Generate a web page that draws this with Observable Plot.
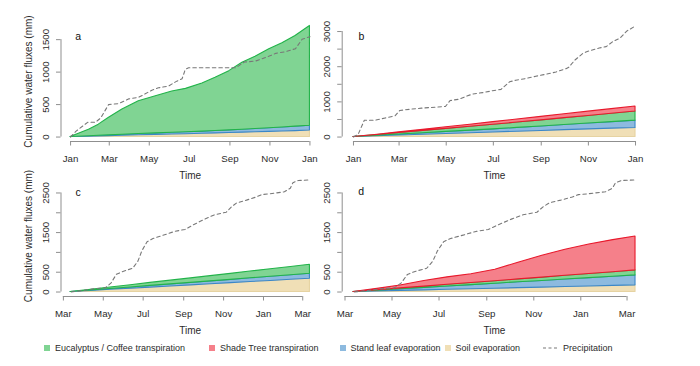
<!DOCTYPE html>
<html><head><meta charset="utf-8">
<script src="https://cdn.jsdelivr.net/npm/d3@7"></script>
<script src="https://cdn.jsdelivr.net/npm/@observablehq/plot@0.6"></script>
<style>
body{margin:0;background:#fff;}
#chart{position:relative;width:700px;height:366px;background:#fff;font-family:"Liberation Sans",Arial,sans-serif;overflow:hidden;}
.legend-item{position:absolute;top:341px;height:13px;display:flex;align-items:center;font-size:9px;color:#2b2b2b;white-space:nowrap;}
.sw{display:inline-block;width:6px;height:6px;margin-right:5px;}
</style></head><body><div id="chart"></div>
<script>
// ---------------- data ----------------
const SOIL = "Soil evaporation", LEAF = "Stand leaf evaporation",
      TRANSP = "Eucalyptus / Coffee transpiration", SHADE = "Shade Tree transpiration";

// Panel a
const datesA = ["2010-01-01","2010-01-29","2010-02-13","2010-02-28","2010-03-21","2010-04-15","2010-05-11","2010-06-05","2010-06-26","2010-07-21","2010-08-10","2010-08-31","2010-09-20","2010-10-10","2010-10-31","2010-11-20","2010-12-10","2011-01-01"];
const soilA   = [0,7,11,15,21,27,33,39,44,50,56,62,68,74,80,86,92,100];
const leafA   = [0,5,8,11,15,19,23,27,30,34,37,41,45,50,56,62,68,75];
const transpA = [0,101,172,268,387,506,573,635,668,741,819,912,1031,1113,1215,1295,1397,1536];
const precipDatesA = ["2010-01-01","2010-01-09","2010-01-27","2010-02-08","2010-02-16","2010-02-28","2010-03-15","2010-03-31","2010-04-15","2010-04-23","2010-05-05","2010-05-15","2010-05-30","2010-06-12","2010-06-20","2010-06-25","2010-06-30","2010-09-10","2010-09-23","2010-10-10","2010-10-31","2010-11-10","2010-11-25","2010-12-10","2010-12-20","2011-01-01"];
const precipA = [0,88,227,227,294,500,515,588,613,655,722,758,784,861,897,1041,1067,1067,1155,1170,1247,1289,1314,1361,1505,1546];

// Panel b
const datesB = ["2010-01-01","2010-02-01","2010-03-01","2010-04-01","2010-05-01","2010-06-01","2010-07-01","2010-08-01","2010-09-01","2010-10-01","2010-11-01","2010-12-01","2011-01-01"];
const soilB   = [0,22,44,65,87,109,131,152,174,196,218,239,258];
const leafB   = [0,14,29,44,59,73,88,108,126,146,166,186,209];
const coffeeB = [0,22,44,66,87,110,131,152,175,195,216,237,258];
const shadeB  = [0,8,18,30,45,60,75,88,100,112,122,132,145];
const precipDatesB = ["2010-01-01","2010-01-07","2010-01-15","2010-01-29","2010-02-11","2010-02-24","2010-03-02","2010-03-17","2010-03-30","2010-04-17","2010-04-30","2010-05-06","2010-05-17","2010-05-26","2010-06-04","2010-06-17","2010-06-30","2010-07-11","2010-07-22","2010-07-30","2010-08-12","2010-08-25","2010-09-07","2010-09-20","2010-10-03","2010-10-07","2010-10-14","2010-10-25","2010-11-03","2010-11-15","2010-11-24","2010-12-03","2010-12-12","2010-12-21","2011-01-01"];
const precipB = [0,75,477,477,542,607,757,794,822,850,869,1037,1075,1150,1224,1262,1318,1355,1570,1617,1664,1729,1785,1850,1944,1990,2177,2383,2458,2532,2570,2720,2813,3019,3159];

// Panels c and d (same period, same rainfall)
const datesCD = ["2011-03-12","2011-04-12","2011-05-12","2011-06-12","2011-07-12","2011-08-12","2011-09-12","2011-10-12","2011-11-12","2011-12-12","2012-01-12","2012-02-12","2012-03-12"];
const soilC   = [0,28,56,84,112,140,168,196,224,252,280,308,336];
const leafC   = [0,10,21,31,42,52,62,73,83,94,104,115,125];
const coffeeC = [0,19,38,57,76,95,114,132,151,170,189,208,227];
const soilD   = [0,14,28,42,56,70,84,98,112,126,140,154,168];
const leafD   = [0,21,42,63,84,105,126,147,168,189,210,231,252];
const coffeeD = [0,10,21,31,42,52,63,73,84,94,105,115,126];
const shadeD  = [0,35,74,144,188,223,287,422,551,656,745,810,855];
const precipDatesCD = ["2011-03-13","2011-03-31","2011-04-16","2011-05-04","2011-05-13","2011-05-21","2011-05-31","2011-06-15","2011-06-23","2011-06-29","2011-07-07","2011-07-16","2011-07-31","2011-08-18","2011-09-03","2011-09-15","2011-10-03","2011-10-18","2011-11-05","2011-11-13","2011-11-21","2011-12-06","2011-12-21","2011-12-29","2012-01-11","2012-02-02","2012-02-11","2012-02-15","2012-02-23","2012-03-11"];
const precipCD = [0,40,80,105,230,445,520,600,780,1040,1270,1350,1430,1530,1580,1690,1840,1950,2014,2150,2250,2320,2400,2458,2480,2530,2620,2760,2815,2828];

// Axis ticks and labels
const xTicksAB = ["2010-01-01","2010-03-01","2010-05-01","2010-07-01","2010-09-01","2010-11-01","2011-01-01"];
const xTicksCD = ["2011-03-01","2011-05-01","2011-07-01","2011-09-01","2011-11-01","2012-01-01","2012-03-01"];
const yTicksA = [0,500,1000,1500],            yLabelsA = [0,500,1000,1500];
const yTicksB = [0,500,1000,1500,2000,2500,3000], yLabelsB = [0,1000,2000,3000];
const yTicksCD = [0,500,1000,1500,2000,2500], yLabelsCD = [0,500,1500,2500];

const yTitle = "Cumulative water fluxes (mm)";
const xTitle = "Time";
const legendItems = [TRANSP, SHADE, LEAF, SOIL, "Precipitation"];

// ---------------- styling ----------------
const fillColor = {[SOIL]:"#f0dfb6",[LEAF]:"#8dbadf",[TRANSP]:"#80d493",[SHADE]:"#f5808a"};
const strokeColor = {[SOIL]:"#e6d3a2",[LEAF]:"#3b87c8",[TRANSP]:"#22b34a",[SHADE]:"#e8192c"};
const axisColor = "#8f8f8f", textColor = "#2b2b2b";

function stackRows(dates, layers) {
  const rows = [];
  for (const [name, vals] of layers) dates.forEach((d, i) => rows.push({date: new Date(d), series: name, value: vals[i]}));
  return rows;
}

function panel(o) {
  const rows = stackRows(o.dates, o.layers);
  const precip = o.precipDates.map((d, i) => ({date: new Date(d), value: o.precip[i]}));
  const allDates = rows.map(r => r.date).concat(precip.map(p => p.date));
  const x0 = d3.min(allDates), x1 = d3.max(allDates);
  const padX = (x1 - x0) * 0.04;
  const totals = d3.rollup(rows, v => d3.sum(v, r => r.value), r => +r.date);
  const ymax = Math.max(d3.max(totals.values()), d3.max(o.precip));
  const padY = ymax * 0.04;
  const xdom = [new Date(+x0 - padX), new Date(+x1 + padX)];
  const ydom = [-padY, ymax + padY];
  const xt = o.xTicks.map(d => new Date(d));
  const marks = [
    Plot.areaY(rows, {x: "date", y: "value", z: "series", fill: r => fillColor[r.series], stroke: r => strokeColor[r.series], strokeWidth: 1.1}),
    Plot.lineY(precip, {x: "date", y: "value", stroke: "#787878", strokeWidth: 1.1, strokeDasharray: "3.5,3"}),
    Plot.ruleY([{y: ydom[0], x1: xt[0], x2: xt[xt.length - 1]}], {y: "y", x1: "x1", x2: "x2", stroke: axisColor}),
    Plot.ruleX([{x: xdom[0], y1: o.yTicks[0], y2: o.yTicks[o.yTicks.length - 1]}], {x: "x", y1: "y1", y2: "y2", stroke: axisColor}),
    Plot.axisX(xt, {tickFormat: d3.utcFormat("%b"), tickSize: 4.5, tickPadding: 9, stroke: axisColor, fill: textColor, label: null}),
    Plot.axisY(o.yTicks, {tickFormat: v => o.yLabels.includes(v) ? String(v) : "", tickSize: 4.5, tickPadding: 7.5, tickRotate: -90, stroke: axisColor, fill: textColor, label: null}),
    Plot.text([o.letter], {text: d => d, frameAnchor: "top-left", textAnchor: "middle", lineAnchor: "middle", dx: o.letterDx, dy: o.letterDy, fontSize: 10.5, fill: "#111"}),
    Plot.text([xTitle], {text: d => d, frameAnchor: "bottom", textAnchor: "middle", lineAnchor: "middle", dy: 34.7, fontSize: 10, fill: textColor})
  ];
  if (o.ytitle) marks.push(Plot.text([o.ytitle], {text: d => d, frameAnchor: "left", textAnchor: "middle", lineAnchor: "middle", rotate: -90, dx: -32.5, fontSize: 10, fill: textColor}));
  const svg = Plot.plot({
    width: o.width, height: o.height,
    marginLeft: o.ml, marginRight: o.mr, marginTop: o.mt, marginBottom: o.mb,
    style: {background: "transparent", fontFamily: "Liberation Sans, Arial, sans-serif", fontSize: "9.7px", overflow: "visible"},
    x: {type: "utc", domain: xdom},
    y: {domain: ydom},
    marks
  });
  svg.style.position = "absolute";
  svg.style.left = o.left + "px";
  svg.style.top = o.top + "px";
  return svg;
}

const chart = document.getElementById("chart");
chart.append(panel({left: 0, top: 0, width: 330, height: 185, ml: 60.5, mr: 11, mt: 21, mb: 44,
  dates: datesA, layers: [[SOIL, soilA], [LEAF, leafA], [TRANSP, transpA]],
  precipDates: precipDatesA, precip: precipA, xTicks: xTicksAB, yTicks: yTicksA, yLabels: yLabelsA,
  letter: "a", letterDx: 17.2, letterDy: 14.7, ytitle: yTitle}));
chart.append(panel({left: 300, top: 0, width: 400, height: 185, ml: 41.7, mr: 53.7, mt: 21, mb: 44,
  dates: datesB, layers: [[SOIL, soilB], [LEAF, leafB], [TRANSP, coffeeB], [SHADE, shadeB]],
  precipDates: precipDatesB, precip: precipB, xTicks: xTicksAB, yTicks: yTicksB, yLabels: yLabelsB,
  letter: "b", letterDx: 19.3, letterDy: 14.7}));
chart.append(panel({left: 0, top: 155, width: 330, height: 185, ml: 60.5, mr: 11, mt: 20, mb: 44,
  dates: datesCD, layers: [[SOIL, soilC], [LEAF, leafC], [TRANSP, coffeeC]],
  precipDates: precipDatesCD, precip: precipCD, xTicks: xTicksCD, yTicks: yTicksCD, yLabels: yLabelsCD,
  letter: "c", letterDx: 17.2, letterDy: 16.7, ytitle: yTitle}));
chart.append(panel({left: 300, top: 155, width: 400, height: 185, ml: 41.7, mr: 53.7, mt: 20, mb: 44,
  dates: datesCD, layers: [[SOIL, soilD], [LEAF, leafD], [TRANSP, coffeeD], [SHADE, shadeD]],
  precipDates: precipDatesCD, precip: precipCD, xTicks: xTicksCD, yTicks: yTicksCD, yLabels: yLabelsCD,
  letter: "d", letterDx: 19, letterDy: 15.7}));

// legend
const legendX = [44, 209, 339.5, 444.5, 543];
legendItems.forEach((name, i) => {
  const item = document.createElement("div");
  item.className = "legend-item";
  item.style.left = legendX[i] + "px";
  if (name === "Precipitation") {
    item.innerHTML = `<svg width="15" height="6" style="margin-right:5px"><line x1="0" y1="3" x2="15" y2="3" stroke="#787878" stroke-width="1.1" stroke-dasharray="3,2.5"/></svg>`;
  } else {
    item.innerHTML = `<span class="sw" style="background:${fillColor[name]}"></span>`;
  }
  item.append(document.createTextNode(name));
  chart.append(item);
});
</script></body></html>
